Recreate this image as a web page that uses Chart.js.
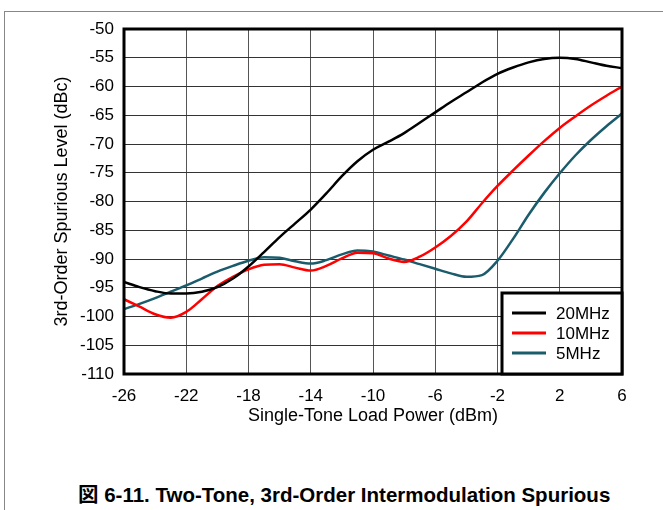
<!DOCTYPE html>
<html lang="ja">
<head>
  <meta charset="UTF-8">
  <title>Two-Tone, 3rd-Order Intermodulation Spurious</title>
  <script src="https://cdn.jsdelivr.net/npm/chart.js@4.4.0/dist/chart.umd.min.js"></script>
  <style>
    body { margin: 0; background: #fff; }
    #page { position: relative; width: 663px; height: 510px; overflow: hidden; background: #fff; }
    #frame-left { position: absolute; left: 4px; top: 11px; width: 1px; height: 499px; background: #888; }
    #frame-top { position: absolute; left: 4px; top: 11px; width: 659px; height: 1px; background: #888; }
    #chart-box { position: absolute; left: 0; top: 0; width: 663px; height: 440px; }
    #caption {
      position: absolute; left: 78px; top: 478px; white-space: nowrap;
      font: bold 20.5px "Liberation Sans", "Noto Sans CJK JP", sans-serif; color: #000;
    }
  </style>
</head>
<body>
  <div id="page">
    <div id="frame-left"></div>
    <div id="frame-top"></div>
    <div id="chart-box"><canvas id="imd-chart"></canvas></div>
    <div id="caption">図 6-11. Two-Tone, 3rd-Order Intermodulation Spurious</div>
  </div>

  <script>
    // load power, dBm (1 dBm steps)
    const powerDbm = [-26, -25, -24, -23, -22, -21, -20, -19, -18, -17, -16, -15, -14, -13, -12, -11, -10,
                      -9, -8, -7, -6, -5, -4, -3, -2, -1, 0, 1, 2, 3, 4, 5, 6];
    // spurious level, dBc
    const imd20MHz = [-94.0, -94.9, -95.6, -96.0, -96.0, -95.7, -94.9, -93.4, -91.3, -88.8, -86.2, -83.8, -81.4, -78.6, -75.6, -73.0, -71.0,
                      -69.6, -68.1, -66.3, -64.5, -62.7, -61.0, -59.3, -57.8, -56.7, -55.8, -55.2, -55.0, -55.2, -55.8, -56.4, -56.8];
    const imd10MHz = [-97.0, -98.3, -99.6, -100.2, -99.2, -97.0, -94.7, -93.1, -91.8, -91.0, -90.9, -91.5, -92.0, -91.2, -89.9, -88.9, -89.0,
                      -89.9, -90.5, -89.6, -88.0, -86.0, -83.5, -80.3, -77.3, -74.6, -72.0, -69.5, -67.2, -65.2, -63.3, -61.6, -60.0];
    const imd5MHz  = [-98.7, -97.8, -96.8, -95.7, -94.6, -93.4, -92.2, -91.2, -90.3, -89.7, -89.8, -90.4, -90.8, -90.2, -89.2, -88.5, -88.7,
                      -89.4, -90.1, -90.9, -91.7, -92.5, -93.1, -92.8, -90.3, -86.5, -82.3, -78.5, -75.1, -72.0, -69.3, -66.9, -64.7];
    const seriesLabels = ['20MHz', '10MHz', '5MHz'];
    const seriesColors = ['#000000', '#ff0000', '#1b5c6c'];

    const FONT = '"Liberation Sans", Arial, sans-serif';
    const toPoints = ys => powerDbm.map((x, i) => ({ x: x, y: ys[i] }));

    // thick frame round the plot + legend box in the lower right corner
    const frameAndLegend = {
      id: 'frameAndLegend',
      afterDatasetsDraw(chart) {
        const { ctx, chartArea: a } = chart;
        ctx.save();
        ctx.lineWidth = 3;
        ctx.strokeStyle = '#000';
        ctx.strokeRect(a.left, a.top, a.right - a.left, a.bottom - a.top);

        const boxW = 120, boxH = 81;
        const bx = a.right - boxW, by = a.bottom - boxH;
        ctx.fillStyle = '#fff';
        ctx.fillRect(bx, by, boxW, boxH);
        ctx.strokeRect(bx, by, boxW, boxH);

        ctx.font = '17px ' + FONT;
        ctx.textBaseline = 'middle';
        chart.data.datasets.forEach((ds, i) => {
          const ry = by + 20 + i * 20;
          ctx.strokeStyle = ds.borderColor;
          ctx.lineWidth = 3;
          ctx.beginPath();
          ctx.moveTo(bx + 10, ry);
          ctx.lineTo(bx + 44, ry);
          ctx.stroke();
          ctx.fillStyle = '#000';
          ctx.fillText(ds.label, bx + 54, ry + 1);
        });
        ctx.restore();
      }
    };

    new Chart(document.getElementById('imd-chart'), {
      type: 'line',
      data: {
        datasets: [imd20MHz, imd10MHz, imd5MHz].map((ys, i) => ({
          label: seriesLabels[i],
          data: toPoints(ys),
          borderColor: seriesColors[i],
          borderWidth: 2.5,
          pointRadius: 0,
          fill: false,
          cubicInterpolationMode: 'monotone'
        }))
      },
      options: {
        responsive: true,
        maintainAspectRatio: false,
        animation: false,
        layout: { padding: { top: 29, right: 41, left: 0, bottom: 0 } },
        plugins: { legend: { display: false }, tooltip: { enabled: false } },
        scales: {
          x: {
            type: 'linear', min: -26, max: 6,
            ticks: { stepSize: 4, padding: 12, color: '#000', maxRotation: 0, font: { size: 17, family: FONT } },
            grid: { color: '#555', drawTicks: false },
            border: { display: false },
            title: {
              display: true, text: 'Single-Tone Load Power (dBm)', color: '#000',
              font: { size: 18, family: FONT }, padding: { top: 0, bottom: 13 }
            },
            afterFit: s => { s.height = 66; }
          },
          y: {
            type: 'linear', min: -110, max: -50,
            ticks: { stepSize: 5, padding: 10, color: '#000', font: { size: 17, family: FONT } },
            grid: { color: '#333', drawTicks: false },
            border: { display: false },
            title: {
              display: true, text: '3rd-Order Spurious Level (dBc)', color: '#000',
              font: { size: 18, family: FONT }, padding: { top: 51, bottom: 0 }
            },
            afterFit: s => { s.width = 124; }
          }
        }
      },
      plugins: [frameAndLegend]
    });
  </script>
</body>
</html>
